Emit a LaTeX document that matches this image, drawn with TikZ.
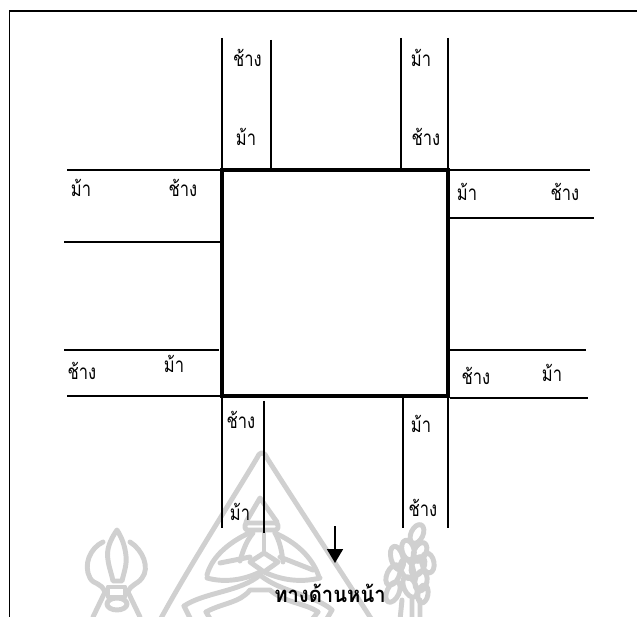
\documentclass[tikz,border=0pt]{standalone}
\usepackage{fontspec}
\newfontfamily\thaifont[Script=Thai,FakeStretch=0.8]{Loma}
\newfontfamily\frontfont[Script=Thai,FakeStretch=0.92]{Loma}
\usepackage{xcolor}
\usetikzlibrary{arrows.meta, positioning, shapes.geometric}
\definecolor{crest}{HTML}{D0D0D0}
\begin{document}
\begin{tikzpicture}[
      x=0.75pt,
      y=-0.75pt,
      >={Triangle[length=10.5pt,width=12pt]},
      word/.style={
        anchor=base,
        inner sep=0pt,
        font=\fontsize{15.5pt}{17pt}\thaifont
      },
      road/.style={
        line width=1.4pt,
        line cap=butt
      },
      hall/.style={
        rectangle,
        draw,
        line width=2.8pt,
        minimum width=170pt,
        minimum height=169.5pt,
        inner sep=0pt,
        outer sep=0pt
      },
      emblem/.style={
        draw=crest,
        line width=3.7pt,
        line join=round,
        line cap=round
      }
    ]
    \useasboundingbox (0,0) rectangle (637,617);
    \clip (0,0) rectangle (637,617);

    \draw[emblem] (160,620) .. controls (190,565) and (235,495) .. (257,458) .. controls (260,451) and (264,451) .. (267,458) .. controls (300,510) and (340,570) .. (372,620);
    \draw[emblem] (246,522) -- (260,498) -- (277,522);
    \draw[emblem, rounded corners=2pt] (245,523) rectangle (278,530);
    \draw[emblem] (249,533) .. controls (230,542) and (212,556) .. (207,575);
    \draw[emblem] (275,533) .. controls (295,542) and (312,556) .. (319,577);
    \draw[emblem] (253,533) .. controls (247,540) and (243,550) .. (240,561);
    \draw[emblem] (275,533) .. controls (280,542) and (282,552) .. (283,562);
    \draw[emblem] (264,533) -- (264,553);
    \draw[emblem] (264,553) -- (278,562) -- (264,572) -- (250,562) -- cycle;
    \draw[emblem] (220,563) -- (250,557);
    \draw[emblem] (280,557) -- (313,570);
    \draw[emblem] (207,578) .. controls (225,583) and (245,580) .. (262,571) .. controls (280,580) and (300,583) .. (320,578);
    \draw[emblem] (184,606) .. controls (205,592) and (240,592) .. (260,575) .. controls (280,592) and (315,595) .. (332,610);
    \draw[emblem] (206,612) .. controls (222,603) and (240,603) .. (250,590) -- (270,590) .. controls (285,603) and (305,603) .. (318,612);
    \draw[emblem] (184,606) -- (192,622) (206,612) -- (212,622) (332,610) -- (325,622) (318,612) -- (310,622);
    \draw[emblem] (117,530) .. controls (110,540) and (106,550) .. (108,560) .. controls (109,568) and (112,575) .. (113,581) -- (122,581) .. controls (124,572) and (127,565) .. (126,556) .. controls (125,546) and (122,538) .. (117,530) -- cycle;
    \draw[emblem] (103,542) .. controls (90,548) and (83,565) .. (90,578) .. controls (94,585) and (101,582) .. (105,592) -- (93,617);
    \draw[emblem] (130,542) .. controls (143,550) and (150,568) .. (142,578) .. controls (137,585) and (131,584) .. (128,592) -- (140,617);
    \draw[emblem] (108,587) -- (125,587) -- (125,597) -- (108,597) -- cycle;
    \draw[emblem] (117,604) ellipse [x radius=10, y radius=6];
    \draw[emblem] (417,534) ellipse [x radius=6, y radius=10, rotate=-25]
      (408,550) ellipse [x radius=6, y radius=10, rotate=15]
      (420,552) ellipse [x radius=6, y radius=10, rotate=-25]
      (397,558) ellipse [x radius=6, y radius=12, rotate=15]
      (428,563) ellipse [x radius=6, y radius=10, rotate=10]
      (418,566) ellipse [x radius=6, y radius=10, rotate=-25]
      (407,569) ellipse [x radius=6, y radius=10, rotate=20]
      (393,575) ellipse [x radius=6, y radius=11, rotate=-25]
      (421,581) ellipse [x radius=6, y radius=10, rotate=-10]
      (410,587) ellipse [x radius=6, y radius=11, rotate=25]
      (393,592) ellipse [x radius=6, y radius=11, rotate=-25]
      (423,594) ellipse [x radius=5, y radius=9, rotate=-10];
    \draw[emblem] (402,600) -- (400,620) (412,600) -- (412,620) (420,600) -- (420,620);

    \draw[line width=1.3pt] (637,11) -- (9.5,11) -- (9.5,617);

    \node[hall] (hall) at (335,283) {};

    \draw[road] (222,38) -- (222,170);
    \draw[road] (271,40) -- (271,172);
    \draw[road] (401,38) -- (401,170);
    \draw[road] (448,38) -- (448,170);
    \draw[road] (67,170) -- (222,170);
    \draw[road] (64,242) -- (221,242);
    \draw[road] (448,170) -- (590,170);
    \draw[road] (450,218) -- (594,218);
    \draw[road] (64,350) -- (219,350);
    \draw[road] (67,396) -- (222,396);
    \draw[road] (450,350) -- (586,350);
    \draw[road] (450,398) -- (588,398);
    \draw[road] (222,396) -- (222,528);
    \draw[road] (264,401) -- (264,533);
    \draw[road] (403,397) -- (403,528);
    \draw[road] (448,396) -- (448,528);

    \node[word] (tlelephant) at (247.5,67) {ช้าง};
    \node[word] (tlhorse) at (246,146) {ม้า};
    \node[word] (trhorse) at (421,67) {ม้า};
    \node[word] (trelephant) at (426,146) {ช้าง};
    \node[word] (lthorse) at (81,197) {ม้า};
    \node[word] (ltelephant) at (183,197) {ช้าง};
    \node[word] (rthorse) at (467,201) {ม้า};
    \node[word] (rtelephant) at (565,201) {ช้าง};
    \node[word] (lbelephant) at (82,380) {ช้าง};
    \node[word] (lbhorse) at (174,373) {ม้า};
    \node[word] (rbelephant) at (476,385) {ช้าง};
    \node[word] (rbhorse) at (552,382) {ม้า};
    \node[word] (blelephant) at (241,429) {ช้าง};
    \node[word] (blhorse) at (240,520) {ม้า};
    \node[word] (brhorse) at (421,433) {ม้า};
    \node[word] (brelephant) at (423,517) {ช้าง};

    \coordinate (arrowtop) at (335,526);
    \coordinate (arrowtip) at (335,563);
    \draw[->, line width=1.4pt] (arrowtop) -- (arrowtip);
    \node[word, font=\fontsize{16.5pt}{18pt}\frontfont\bfseries] (front) at (330,603) {ทางด้านหน้า};
  \end{tikzpicture}
\end{document}
